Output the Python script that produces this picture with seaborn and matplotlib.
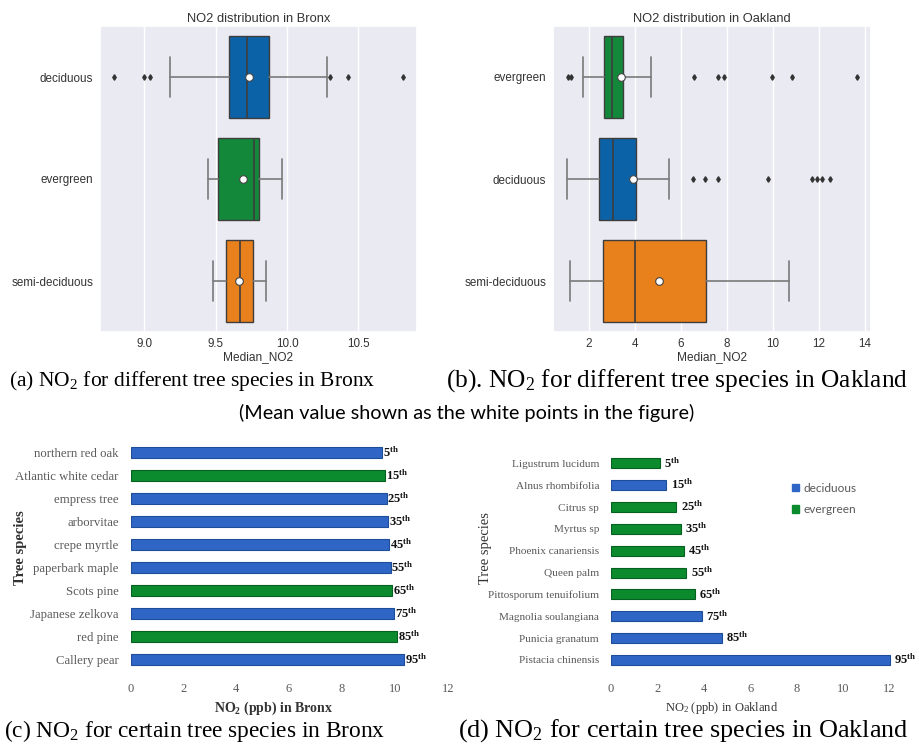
import matplotlib
matplotlib.use("Agg")
import matplotlib.pyplot as plt
import seaborn as sns
import pandas as pd
from matplotlib.patches import Patch

# ---------------- (a) Bronx box-plot statistics ----------------
bronx_types = ["deciduous", "evergreen", "semi-deciduous"]
bronx_q1 = [9.59, 9.515, 9.575]
bronx_med = [9.72, 9.765, 9.668]
bronx_q3 = [9.875, 9.80, 9.76]
bronx_whislo = [9.18, 9.447, 9.484]
bronx_whishi = [10.28, 9.966, 9.85]
bronx_mean = [9.73, 9.69, 9.665]
bronx_fliers = [[8.79, 9.00, 9.04, 10.30, 10.43, 10.81], [], []]

# ---------------- (b) Oakland box-plot statistics ----------------
oak_types = ["evergreen", "deciduous", "semi-deciduous"]
oak_q1 = [2.67, 2.45, 2.62]
oak_med = [2.99, 3.06, 4.00]
oak_q3 = [3.49, 4.03, 7.09]
oak_whislo = [1.75, 1.06, 1.17]
oak_whishi = [4.70, 5.48, 10.71]
oak_mean = [3.39, 3.93, 5.04]
oak_fliers = [[1.10, 1.22, 6.58, 7.62, 7.88, 9.97, 10.84, 13.64],
              [6.51, 7.04, 7.62, 9.77, 11.72, 11.93, 12.12, 12.48],
              []]

# ---------------- (c) Bronx species ----------------
bronx_species = ["northern red oak", "Atlantic white cedar", "empress tree", "arborvitae",
                 "crepe myrtle", "paperbark maple", "Scots pine", "Japanese zelkova",
                 "red pine", "Callery pear"]
bronx_no2 = [9.53, 9.63, 9.69, 9.75, 9.79, 9.84, 9.91, 9.98, 10.07, 10.36]
bronx_leaf = ["deciduous", "evergreen", "deciduous", "deciduous", "deciduous",
              "deciduous", "evergreen", "deciduous", "evergreen", "deciduous"]

# ---------------- (d) Oakland species ----------------
oak_species = ["Ligustrum lucidum", "Alnus rhombifolia", "Citrus sp", "Myrtus sp",
               "Phoenix canariensis", "Queen palm", "Pittosporum tenuifolium",
               "Magnolia soulangiana", "Punicia granatum", "Pistacia chinensis"]
oak_no2 = [2.11, 2.39, 2.82, 3.00, 3.14, 3.25, 3.61, 3.93, 4.79, 12.04]
oak_leaf = ["evergreen", "deciduous", "evergreen", "evergreen", "evergreen",
            "evergreen", "evergreen", "deciduous", "deciduous", "deciduous"]

percentiles = [5, 15, 25, 35, 45, 55, 65, 75, 85, 95]
bar_ticks = [0, 2, 4, 6, 8, 10, 12]

# ---------------- styling ----------------
sns.set_theme(style="darkgrid")
plt.rcParams["mathtext.fontset"] = "custom"
plt.rcParams["mathtext.rm"] = "Liberation Serif"
plt.rcParams["mathtext.it"] = "Liberation Serif:italic"
plt.rcParams["mathtext.bf"] = "Liberation Serif:bold"

box_colors = {"deciduous": "#0c62a6", "evergreen": "#14883a", "semi-deciduous": "#e8801b"}
bar_colors = {"deciduous": "#2f66c5", "evergreen": "#0c8a2e"}
bar_edges = {"deciduous": "#1d4c99", "evergreen": "#066020"}

SANS = "Liberation Sans"
SERIF = "Liberation Serif"

fig = plt.figure(figsize=(9.19, 7.46), dpi=100)
W, H = 919.0, 746.0


def axes_px(left, right, top, bottom):
    return fig.add_axes([left / W, (H - bottom) / H, (right - left) / W, (bottom - top) / H])


def draw_box(ax, types, q1, med, q3, wlo, whi, mean, fliers, title):
    stats = []
    for i, t in enumerate(types):
        stats.append(dict(label=t, q1=q1[i], med=med[i], q3=q3[i], whislo=wlo[i],
                          whishi=whi[i], mean=mean[i], fliers=fliers[i]))
    line_c = "#3d3d3d"
    kw = dict(positions=list(range(len(types))), widths=0.8, patch_artist=True,
              showmeans=True, capwidths=0.4,
              boxprops=dict(edgecolor=line_c, linewidth=1.0),
              whiskerprops=dict(color="#7a7a7a", linewidth=1.2),
              capprops=dict(color="#7a7a7a", linewidth=1.2),
              medianprops=dict(color=line_c, linewidth=1.2),
              meanprops=dict(marker="o", markerfacecolor="white", markeredgecolor="#444444",
                             markersize=5.5, markeredgewidth=0.8),
              flierprops=dict(marker="d", markerfacecolor="#333333", markeredgecolor="#333333",
                              markersize=2.8, linestyle="none"))
    try:
        res = ax.bxp(stats, orientation="horizontal", **kw)
    except TypeError:
        res = ax.bxp(stats, vert=False, **kw)
    for patch, t in zip(res["boxes"], types):
        patch.set_facecolor(box_colors[t])
    ax.set_ylim(len(types) - 0.5, -0.5)
    ax.yaxis.grid(False)
    ax.xaxis.grid(True, color="white", linewidth=1.0)
    ax.set_title(title, fontsize=9.3, family=SANS, color="#333333", pad=3)
    ax.set_xlabel("Median_NO2", fontsize=8.6, family=SANS, color="#333333", labelpad=1)
    ax.tick_params(axis="both", length=0, labelsize=8.4, colors="#333333")
    ax.tick_params(axis="y", pad=5)
    ax.tick_params(axis="x", pad=4)
    for lab in ax.get_xticklabels() + ax.get_yticklabels():
        lab.set_family(SANS)


# ---- (a) ----
ax1 = axes_px(100, 417, 26, 332)
draw_box(ax1, bronx_types, bronx_q1, bronx_med, bronx_q3, bronx_whislo, bronx_whishi,
         bronx_mean, bronx_fliers, "NO2 distribution in Bronx")
ax1.set_xticks([9.0, 9.5, 10.0, 10.5])
ax1.set_xticklabels(["9.0", "9.5", "10.0", "10.5"], family=SANS)

# ---- (b) ----
ax2 = axes_px(553, 871, 26, 332)
draw_box(ax2, oak_types, oak_q1, oak_med, oak_q3, oak_whislo, oak_whishi,
         oak_mean, oak_fliers, "NO2 distribution in Oakland")
ax2.set_xticks([2, 4, 6, 8, 10, 12, 14])
ax2.set_xticklabels(["2", "4", "6", "8", "10", "12", "14"], family=SANS)


def draw_bars(ax, species, values, leaf, tick_fs, bar_w, label_off):
    df = pd.DataFrame({"species": species, "no2": values, "leaf": leaf})
    sns.barplot(data=df, x="no2", y="species", hue="leaf", order=species,
                hue_order=["deciduous", "evergreen"], palette=bar_colors, dodge=False,
                width=bar_w, orient="h", ax=ax, legend=False, saturation=1)
    for cont, key in zip(ax.containers, ["deciduous", "evergreen"]):
        for p in cont:
            p.set_edgecolor(bar_edges[key])
            p.set_linewidth(0.8)
    ax.set_facecolor("white")
    ax.grid(False)
    for s in ax.spines.values():
        s.set_visible(False)
    ax.set_ylim(len(species) - 0.5, -0.5)
    ax.set_xticks(bar_ticks)
    ax.set_xticklabels([str(t) for t in bar_ticks], family=SERIF)
    ax.set_yticks(range(len(species)))
    ax.set_yticklabels(species, family=SERIF)
    ax.tick_params(axis="both", length=0, colors="#595959")
    ax.tick_params(axis="y", labelsize=tick_fs, pad=8.5)
    ax.tick_params(axis="x", labelsize=9, pad=8.5)
    for i, (v, pc) in enumerate(zip(values, percentiles)):
        ax.annotate(r"$\mathbf{%d^{th}}$" % pc, xy=(v, i), xytext=(label_off, 0),
                    textcoords="offset points", ha="left", va="center",
                    fontsize=9, color="#111111")


# ---- (c) ----
ax3 = axes_px(130.5, 447.7, 441.2, 670.8)
draw_bars(ax3, bronx_species, bronx_no2, bronx_leaf, 9.2, 0.5, 0.6)
ax3.set_xlim(0, 12)
ax3.set_xlabel(r"NO$_\mathbf{2}$ (ppb) in Bronx", fontsize=10, family=SERIF,
               fontweight="bold", color="#333333")
ax3.xaxis.set_label_coords((274 - 130.5) / 317.2, (670.8 - 708) / 229.6)
ax3.xaxis.label.set_verticalalignment("center")
ax3.set_ylabel("Tree species", fontsize=10.5, family=SERIF, fontweight="bold", color="#333333")
ax3.yaxis.set_label_coords((21 - 130.5) / 317.2, (670.8 - 548) / 229.6)
ax3.yaxis.label.set_verticalalignment("center")

# ---- (d) ----
ax4 = axes_px(611, 910.2, 452.4, 670.9)
draw_bars(ax4, oak_species, oak_no2, oak_leaf, 8.1, 0.46, 3)
ax4.set_xlim(0, 12.9)
ax4.set_xlabel(r"NO$_2$ (ppb) in Oakland", fontsize=9, family=SERIF, color="#333333")
ax4.xaxis.set_label_coords((721.7 - 611) / 299.2, (670.9 - 708) / 218.5)
ax4.xaxis.label.set_verticalalignment("center")
ax4.set_ylabel("Tree species", fontsize=10.5, family=SERIF, color="#333333")
ax4.yaxis.set_label_coords((485 - 611) / 299.2, (670.9 - 548) / 218.5)
ax4.yaxis.label.set_verticalalignment("center")

handles = [Patch(facecolor=bar_colors["deciduous"], edgecolor=bar_colors["deciduous"]),
           Patch(facecolor=bar_colors["evergreen"], edgecolor=bar_colors["evergreen"])]
leg = ax4.legend(handles, ["deciduous", "evergreen"], loc="center left",
                 bbox_to_anchor=(786 / W, (H - 499) / H), bbox_transform=fig.transFigure,
                 frameon=False, borderpad=0, handlelength=0.6, handleheight=0.6,
                 handletextpad=0.4, labelspacing=0.9,
                 prop={"family": "Lato", "size": 8.6})
for t in leg.get_texts():
    t.set_color("#595959")

# ---------------- captions ----------------
fig.text(192.5 / W, (H - 381) / H, "(a) NO$_2$ for different tree species in Bronx",
         ha="center", va="center", fontsize=15.5, family=SERIF, color="black")
fig.text(677 / W, (H - 381) / H, "(b). NO$_2$ for different tree species in Oakland",
         ha="center", va="center", fontsize=18.3, family=SERIF, color="black")
fig.text(467 / W, (H - 413) / H, "(Mean value shown as the white points in the figure)",
         ha="center", va="center", fontsize=14.3, family="Lato", color="black")
fig.text(195 / W, (H - 731) / H, "(c) NO$_2$ for certain tree species in Bronx",
         ha="center", va="center", fontsize=16.8, family=SERIF, color="black")
fig.text(683 / W, (H - 731) / H, "(d) NO$_2$ for certain tree species in Oakland",
         ha="center", va="center", fontsize=18.8, family=SERIF, color="black")

fig.savefig("out.png", dpi=100)
